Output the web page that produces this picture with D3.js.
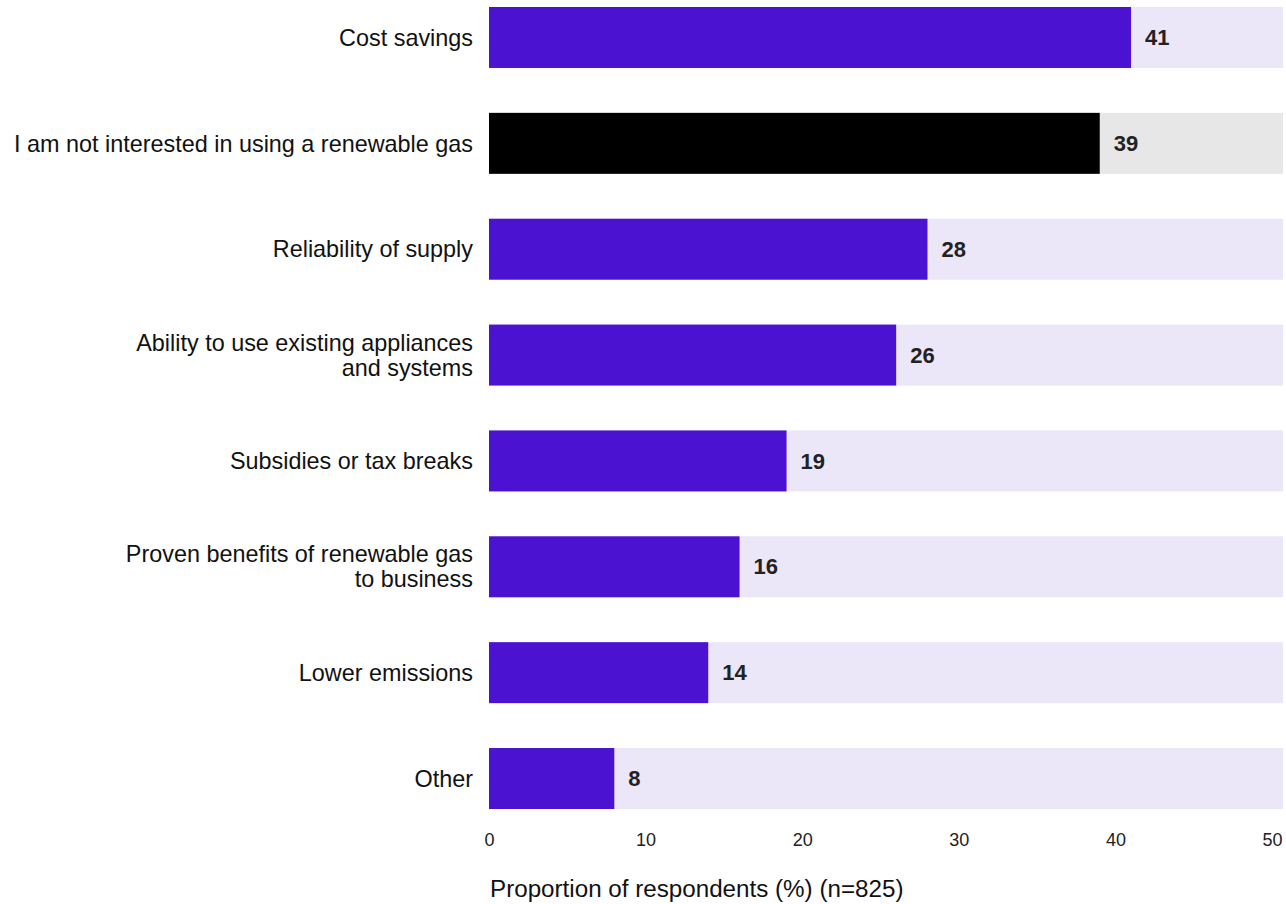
<!DOCTYPE html>
<html>
<head>
<meta charset="utf-8">
<script src="https://cdn.jsdelivr.net/npm/d3@7"></script>
<style>
  html, body { margin: 0; padding: 0; background: #fff; }
  svg { display: block; }
</style>
</head>
<body>
<div id="chart"></div>
<script>
// Drivers for adopting renewable gas, share of respondents
const categories = [
  "Cost savings",
  "I am not interested in using a renewable gas",
  "Reliability of supply",
  "Ability to use existing appliances\nand systems",
  "Subsidies or tax breaks",
  "Proven benefits of renewable gas\nto business",
  "Lower emissions",
  "Other"
];
const values = [41, 39, 28, 26, 19, 16, 14, 8];
const highlight = [false, true, false, false, false, false, false, false];
const tickValues = [0, 10, 20, 30, 40, 50];
const axisTitle = "Proportion of respondents (%) (n=825)";

const width = 1286, height = 904;
const margin = { left: 489, top: 7 };
const plotW = 794;   // background track width
const scaleW = 783;  // 0–50 span
const plotH = 802;

const svg = d3.select("#chart").append("svg")
  .attr("width", width).attr("height", height);

const g = svg.append("g").attr("transform", `translate(${margin.left},${margin.top})`);

const x = d3.scaleLinear().domain([0, 50]).range([0, scaleW]);
const y = d3.scaleBand().domain(categories).range([0, plotH]).paddingInner(0.424).paddingOuter(0);

const rows = g.selectAll("g.row").data(categories).join("g")
  .attr("class", "row")
  .attr("transform", d => `translate(0,${y(d)})`);

// track
rows.append("rect")
  .attr("x", 0).attr("y", 0)
  .attr("width", plotW).attr("height", y.bandwidth())
  .attr("fill", (d, i) => highlight[i] ? "#e7e7e7" : "#ebe6f8");

// value bar
rows.append("rect")
  .attr("x", 0).attr("y", 0)
  .attr("width", (d, i) => x(values[i])).attr("height", y.bandwidth())
  .attr("fill", (d, i) => highlight[i] ? "#000000" : "#4b12d1");

// value labels
rows.append("text")
  .attr("x", (d, i) => x(values[i]) + 14)
  .attr("y", y.bandwidth() / 2)
  .attr("dy", "0.35em")
  .attr("font-family", "Liberation Sans, Arial, sans-serif")
  .attr("font-weight", "bold")
  .attr("font-size", 22)
  .attr("fill", "#222")
  .text((d, i) => values[i]);

// category labels
rows.each(function(d) {
  const lines = d.split("\n");
  const lh = 25;
  const t = d3.select(this).append("text")
    .attr("x", -16)
    .attr("text-anchor", "end")
    .attr("font-family", "Liberation Sans, Arial, sans-serif")
    .attr("font-size", 23.4)
    .attr("fill", "#111");
  lines.forEach((ln, k) => {
    t.append("tspan")
      .attr("x", -16)
      .attr("y", y.bandwidth() / 2 + (k - (lines.length - 1) / 2) * lh)
      .attr("dy", "0.35em")
      .text(ln);
  });
});

// x axis
const axis = d3.axisBottom(x).tickValues(tickValues).tickSize(0).tickPadding(0);
const ax = g.append("g")
  .attr("transform", `translate(0,${plotH + 24})`)
  .call(axis);
ax.select(".domain").remove();
ax.selectAll("text")
  .attr("font-family", "Liberation Sans, Arial, sans-serif")
  .attr("font-size", 18)
  .attr("fill", "#222");

g.append("text")
  .attr("x", 1)
  .attr("y", 890)
  .attr("font-family", "Liberation Sans, Arial, sans-serif")
  .attr("font-size", 24.2)
  .attr("fill", "#111")
  .text(axisTitle);
</script>
</body>
</html>
